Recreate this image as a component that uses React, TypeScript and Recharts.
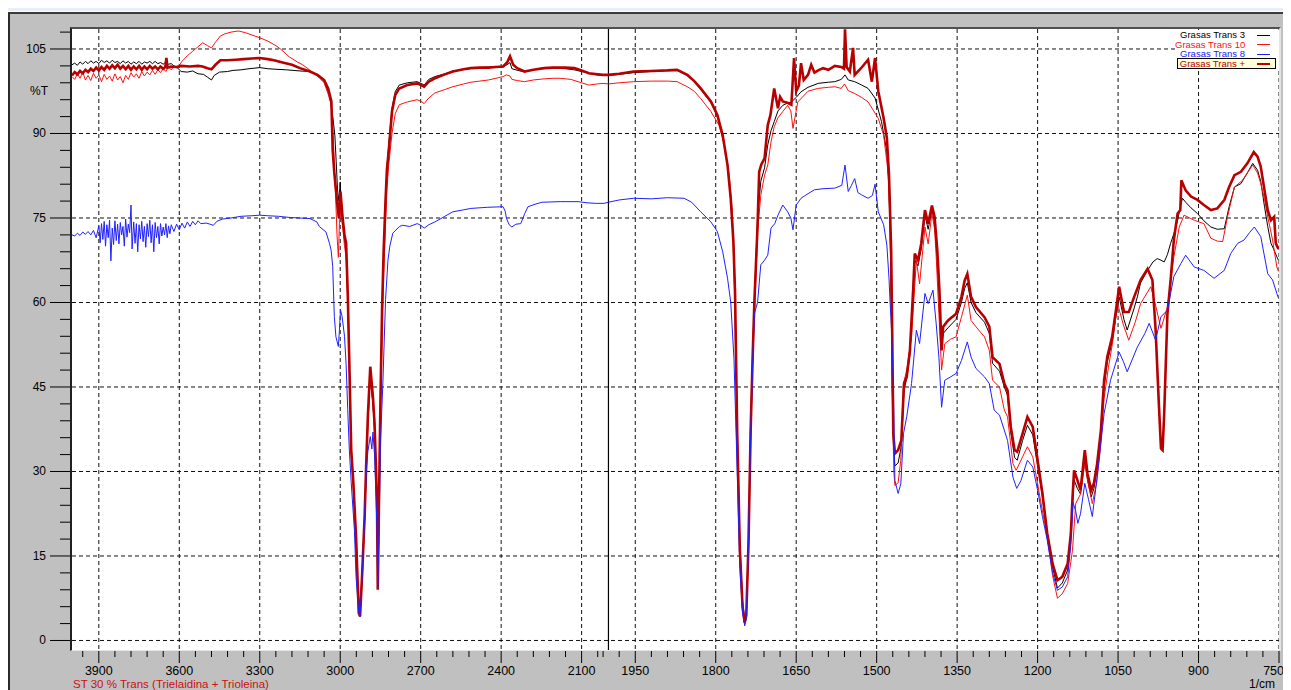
import React from 'react';
import { LineChart, Line, XAxis, YAxis, CartesianGrid, ReferenceLine } from 'recharts';

const seriesNames = ['Grasas Trans 3', 'Grasas Trans 10', 'Grasas Trans 8', 'Grasas Trans +'];
const seriesColors = ['#000000', '#ff1010', '#2020ff', '#b80000'];
const captionText = 'ST 30 % Trans (Trielaidina + Trioleina)';
const yLabel = '%T';
const xUnit = '1/cm';

// [wavenumber (1/cm), %T]
const trans3: [number, number][] = [
  [4000,102.2],[3990,102.5],[3980,102.1],[3970,102.7],[3960,102.3],[3950,102.8],[3940,102.4],[3930,102.9],[3920,102.5],[3910,102.8],
  [3900,102.4],[3890,103.0],[3880,102.6],[3870,102.9],[3860,102.5],[3850,103.0],[3840,102.6],[3830,102.8],[3820,102.4],[3810,102.9],
  [3800,102.5],[3790,102.8],[3780,102.3],[3770,102.7],[3760,102.4],[3750,102.8],[3740,102.3],[3730,102.7],[3720,102.5],[3710,102.8],
  [3700,102.4],[3690,102.8],[3680,102.4],[3670,102.6],[3660,102.3],[3650,102.7],[3640,102.3],[3630,102.4],[3620,102.0],[3610,101.8],
  [3593,101.0],[3570,100.9],[3550,101.1],[3530,100.6],[3510,100.5],[3495,100.0],[3480,99.5],[3470,100.3],[3450,100.9],[3420,101.0],
  [3400,101.2],[3370,101.3],[3340,101.5],[3300,101.7],[3270,101.5],[3240,101.4],[3200,101.3],[3150,101.1],[3113,101.0],[3085,100.4],
  [3060,99.2],[3040,96.9],[3027,92.7],[3020,89.7],[3015,85],[3010,80],[3005,78],[3000,81.4],[2996,77],[2990,74],[2984,71],[2978,69.5],
  [2972,61],[2966,49],[2959,34],[2951,28],[2941,18.5],[2931,5.5],[2926,5.0],[2918,12.5],[2909,22.5],[2903,31],[2897,38.5],[2888,46.5],
  [2878,42],[2872,37.5],[2863,25],[2859,10],[2856,22],[2850,42],[2844,58],[2838,69],[2831,78.5],[2826,84],[2819,88],[2807,94.5],
  [2795,97.4],[2780,98.6],[2750,99.0],[2713,99.2],[2695,98.8],[2687,98.6],[2670,99.6],[2647,100.1],[2610,100.6],[2580,101.1],
  [2540,101.4],[2513,101.6],[2480,101.7],[2447,101.8],[2420,101.9],[2393,101.8],[2375,102.3],[2367,102.6],[2360,101.5],[2345,101.3],
  [2330,101.1],[2313,101.0],[2280,101.3],[2240,101.6],[2207,101.6],[2160,101.5],[2127,101.3],[2100,101.0],[2073,100.7],[2040,100.4],
  [2020,100.3],[2000,100.3],[1980,100.5],[1953,100.8],[1920,101.0],[1890,101.2],[1872,101.2],[1853,100.3],[1840,99.3],[1828,97.8],
  [1809,95.5],[1797,93.0],[1787,89.5],[1778,84.2],[1772,78.2],[1767,70.5],[1764,62],[1760,38],[1755,17],[1750,7],[1746,3.6],[1743,5],
  [1739,18],[1735,38],[1731,52],[1728,60],[1722,75],[1716,81.5],[1709,83.9],[1703,88],[1697,90.5],[1691,92.1],[1684,94],[1675,95.0],
  [1666,95.4],[1659,95.6],[1650,96.4],[1641,97.4],[1628,98.2],[1609,98.9],[1590,99.1],[1578,99.2],[1566,99.6],[1559,100.4],[1553,99.5],
  [1541,99.2],[1528,98.6],[1516,98.0],[1503,96.3],[1491,92.1],[1481,86.8],[1477,80],[1475,73],[1473,60],[1471,45],[1468,33],[1466,31],
  [1460,31.5],[1454,34.5],[1449,44.5],[1444,46.5],[1438,50.8],[1432,61.5],[1429,67.5],[1423,66.5],[1417,69.5],[1410,75.5],[1404,73],
  [1397,76.5],[1392,74.2],[1387,68],[1383,61],[1379,52.5],[1376,54.5],[1367,55.5],[1352,57],[1342,60],[1336,62.5],[1331,63.5],[1324,60],
  [1315,58.2],[1299,56.5],[1290,54.5],[1284,49.2],[1271,47.8],[1262,45],[1256,43.5],[1250,37],[1243,32.5],[1238,32],[1228,35.5],
  [1219,38.2],[1209,36.5],[1200,31],[1191,25.5],[1182,18.5],[1172,13],[1163,9.3],[1154,10.2],[1144,12.5],[1138,18.5],[1135,24],
  [1132,28.5],[1126,27],[1120,26],[1112,32],[1107,28.5],[1100,25.5],[1095,27],[1089,30.5],[1082,36.5],[1076,45],[1070,49.5],[1061,53],
  [1054,57.5],[1048,61],[1039,57],[1033,55.1],[1020,59],[1014,61],[1008,63.5],[995,65.7],[985,67.2],[977,67.8],[970,67.5],[964,67.2],
  [958,68.5],[952,70.5],[945,72.5],[939,74.6],[935,76.5],[930,78.5],[924,77.8],[914,76.8],[902,75.8],[890,74.5],[877,73.4],[865,73.0],
  [852,73.1],[843,77],[833,80.5],[821,81.1],[809,83],[799,84.7],[790,83.5],[784,81.5],[777,77],[771,73.5],[765,70.5],[760,69.5],
  [754,68.1],[751,67.5],
];

const trans10: [number, number][] = [
  [4000,100.1],[3990,99.6],[3980,100.6],[3970,99.8],[3960,100.9],[3950,99.5],[3940,100.3],[3930,99.4],[3920,100.7],[3910,99.8],
  [3900,100.4],[3890,99.2],[3880,100.5],[3870,99.6],[3860,100.2],[3850,99.3],[3840,100.6],[3830,99.5],[3820,100.1],[3810,99.0],
  [3800,100.3],[3790,99.6],[3780,100.8],[3770,100.0],[3760,100.6],[3750,99.8],[3740,101.0],[3730,100.2],[3720,100.9],[3710,100.4],
  [3700,101.2],[3690,100.5],[3680,101.3],[3670,100.8],[3660,101.5],[3650,101.0],[3640,101.8],[3630,101.3],[3620,101.9],[3607,101.6],
  [3590,102.8],[3570,103.8],[3550,104.6],[3530,105.4],[3513,106.1],[3495,105.6],[3480,105.2],[3465,106.2],[3447,107.3],[3430,107.7],
  [3407,108.0],[3380,108.2],[3353,107.9],[3330,107.5],[3300,107.0],[3270,106.4],[3240,105.6],[3220,104.9],[3190,103.6],[3160,102.7],
  [3140,102.2],[3120,101.5],[3100,100.7],[3080,100.0],[3060,99],[3045,97],[3033,95],[3025,88],[3018,80],[3012,72],[3007,68],[3003,74],
  [2998,76],[2990,73],[2984,70],[2978,68],[2972,60],[2966,48],[2959,33],[2951,27],[2941,17],[2931,5],[2926,4.2],[2918,11],[2909,21],
  [2903,30],[2897,38],[2888,47.5],[2878,42],[2872,37],[2863,24],[2859,9.5],[2856,21],[2850,40],[2844,55],[2838,65],[2831,74],[2826,80],
  [2819,84.5],[2807,90],[2795,93.5],[2780,95.1],[2750,95.6],[2713,96.0],[2695,95.6],[2687,95.3],[2670,96.3],[2647,97.2],[2610,97.8],
  [2580,98.3],[2540,98.8],[2513,99.1],[2480,99.3],[2447,99.5],[2420,99.8],[2393,100.1],[2380,100.4],[2367,100.2],[2360,99.6],
  [2340,99.4],[2313,99.2],[2280,99.5],[2240,99.7],[2207,99.8],[2180,99.8],[2140,99.6],[2100,99.0],[2073,98.6],[2040,98.8],[2020,98.9],
  [2000,98.8],[1980,99.0],[1953,99.2],[1920,99.3],[1890,99.3],[1872,99.2],[1853,98.3],[1840,97.5],[1828,96.2],[1809,93.9],[1794,91.5],
  [1784,88.0],[1775,82.6],[1769,76.0],[1765,62],[1760,36],[1755,15],[1750,5.5],[1746,2.8],[1743,4],[1739,16],[1735,35],[1731,50],
  [1727,60],[1722,72.6],[1716,79],[1709,82.6],[1703,84.4],[1697,88.5],[1691,91.2],[1684,92.8],[1675,93.9],[1666,95.0],[1660,94],
  [1656,90.9],[1652,93],[1647,95.6],[1628,97.5],[1610,98.0],[1590,98.2],[1578,98.3],[1566,98.0],[1560,98.8],[1553,97.6],[1541,97.1],
  [1528,96.4],[1516,95.6],[1497,92.7],[1487,89.7],[1478,82.6],[1475,74],[1473,62],[1471,44],[1468,30],[1466,27.5],[1460,28],[1455,32],
  [1450,45.6],[1444,48],[1435,53.9],[1426,67.5],[1420,63.3],[1410,73.4],[1404,70.4],[1397,75.8],[1392,73],[1389,68.1],[1384,58],
  [1379,48],[1373,52.7],[1362,53.5],[1352,53.9],[1342,57.4],[1331,61.3],[1324,56.8],[1315,55.7],[1299,53.9],[1290,51.5],[1284,46.2],
  [1271,45],[1262,40.9],[1256,39.7],[1246,31.4],[1240,30.2],[1228,32.6],[1219,34.4],[1209,32.6],[1200,27.8],[1191,23],[1182,18.4],
  [1172,11.5],[1163,7.5],[1154,8.3],[1144,10.1],[1138,14],[1135,16],[1129,24.3],[1120,26],[1112,31.4],[1105,27.5],[1098,24.3],
  [1090,28],[1083,34],[1076,43],[1068,48.5],[1060,53],[1051,59.8],[1040,56],[1030,53.3],[1018,56.5],[1008,59.8],[989,62.8],[980,59.5],
  [970,55.4],[958,59.2],[946,68.1],[936,73.4],[927,75.5],[908,74.6],[890,74.0],[877,71.4],[865,70.9],[855,70.8],[846,75.2],[833,80.5],
  [818,81.7],[809,83],[799,84.4],[790,83],[784,81.1],[777,78.3],[771,75.2],[762,71.1],[754,66.3],[751,65.5],
];

const trans8: [number, number][] = [
  [4000,72.0],[3990,71.8],[3980,72.3],[3970,71.9],[3960,72.5],[3950,72.1],[3940,72.6],[3930,72.0],[3920,72.8],[3910,71.5],
  [3900,73.6],[3895,70.6],[3890,74.0],[3885,71.2],[3880,74.4],[3875,70.0],[3870,73.8],[3865,71.5],[3860,74.6],[3855,67.4],
  [3850,73.2],[3845,70.3],[3840,74.5],[3835,71.0],[3830,73.9],[3825,70.4],[3820,74.2],[3815,72.0],[3810,73.5],[3805,70.0],
  [3800,74.8],[3795,71.6],[3790,73.9],[3785,72.4],[3780,77.3],[3776,69.5],[3770,74.3],[3765,70.5],[3760,74.0],[3755,69.0],
  [3750,73.8],[3745,71.3],[3740,74.4],[3735,70.8],[3730,73.5],[3725,69.8],[3720,74.0],[3715,71.7],[3710,74.6],[3705,70.6],
  [3700,73.8],[3695,69.0],[3690,74.2],[3685,71.5],[3680,73.5],[3675,70.4],[3670,74.0],[3665,71.8],[3660,73.4],[3655,72.0],
  [3650,74.0],[3645,71.5],[3640,73.6],[3635,72.2],[3630,73.8],[3620,72.6],[3610,73.9],[3600,72.9],[3590,74.1],[3580,73.2],
  [3570,74.3],[3560,73.5],[3550,74.4],[3540,73.8],[3530,74.5],[3520,74.0],[3500,74.1],[3485,73.9],[3473,73.7],[3460,74.4],
  [3440,74.8],[3407,75.0],[3370,75.3],[3330,75.4],[3300,75.5],[3270,75.4],[3230,75.3],[3190,75.1],[3152,75.0],[3113,74.9],
  [3087,74.3],[3078,73.5],[3053,72.5],[3040,70.5],[3034,69.3],[3028,66.4],[3022,57.5],[3016,53.9],[3007,52.2],[3003,55],[2999,58.7],
  [2993,57.5],[2984,54],[2978,49],[2972,41],[2966,33.8],[2959,28],[2947,19.5],[2941,11.3],[2931,5.0],[2926,4.2],[2918,12],[2909,22],
  [2903,30],[2897,33.5],[2888,36.2],[2882,34],[2878,37],[2872,33],[2863,20],[2860,9.3],[2856,18],[2850,35],[2841,45.7],[2831,60.5],
  [2822,67.5],[2815,70],[2804,72.3],[2779,73.5],[2767,73.7],[2741,73.5],[2713,74.0],[2700,73.7],[2687,73.2],[2670,73.8],[2647,74.3],
  [2610,75.3],[2580,76.1],[2545,76.4],[2513,76.7],[2450,76.9],[2393,77.0],[2385,76.2],[2380,74.9],[2370,73.8],[2360,73.4],[2345,73.9],
  [2327,74.0],[2312,75.8],[2300,77.0],[2270,77.5],[2247,77.8],[2180,77.9],[2113,77.9],[2080,77.7],[2047,77.6],[2016,77.6],[2000,77.8],
  [1980,78.2],[1953,78.5],[1920,78.4],[1890,78.6],[1859,78.5],[1845,77.8],[1828,76.1],[1809,74.3],[1797,72.6],[1787,69.0],[1778,64.3],
  [1772,60.0],[1766,50],[1760,30],[1755,13],[1750,5],[1746,2.6],[1743,4],[1739,17],[1735,36],[1731,50],[1728,58],[1722,60],[1716,66.7],
  [1709,67.5],[1703,68.4],[1697,73.2],[1690,74.0],[1684,75.5],[1675,77.3],[1666,76.1],[1660,75.0],[1656,72.9],[1650,77.3],[1641,78.5],
  [1630,79.2],[1616,80.0],[1600,80.2],[1578,80.3],[1565,80.8],[1559,84.4],[1553,79.7],[1547,80.8],[1541,82.0],[1535,79.5],[1528,79.1],
  [1516,78.5],[1508,79.0],[1503,81.0],[1497,76.1],[1487,73.8],[1481,70.2],[1477,64.3],[1475,60],[1473,57],[1469,45.6],[1466,28.4],
  [1460,26.1],[1455,27.8],[1450,36.7],[1444,39.7],[1435,45.6],[1426,55.1],[1420,52.7],[1410,61.6],[1404,59.8],[1395,62.2],[1389,56.2],
  [1384,50.3],[1379,41.4],[1373,46.2],[1362,46.8],[1352,47.4],[1342,49.7],[1331,53.0],[1324,50.3],[1315,48.3],[1299,46.8],[1290,45.6],
  [1281,40.9],[1271,40.0],[1256,35.5],[1246,29.0],[1239,27.0],[1231,28.4],[1219,32.0],[1209,30.8],[1200,26.7],[1191,22],[1182,17.8],
  [1172,12],[1163,8.9],[1154,9.5],[1144,11.3],[1138,17],[1134,24.5],[1129,23],[1125,20.8],[1120,22.5],[1112,27.9],[1105,25],[1098,22.0],
  [1089,29.0],[1076,40.3],[1064,46.2],[1048,51.2],[1040,49.5],[1033,47.7],[1014,52.1],[1000,54.5],[992,56.3],[980,53.3],[970,57.5],
  [958,58.6],[946,64.6],[933,66.9],[924,68.4],[908,66.3],[890,65.7],[871,64.3],[852,65.7],[840,68.7],[827,70.5],[815,71.1],[805,72.4],
  [796,73.4],[784,71.7],[771,65.1],[762,64.0],[754,61.6],[751,60.8],
];

const transPlus: [number, number][] = [
  [4000,100.3],[3990,100.9],[3980,100.5],[3970,101.1],[3960,100.7],[3950,101.3],[3940,100.9],[3930,101.5],[3920,101.1],[3910,101.7],
  [3900,101.2],[3890,101.8],[3880,101.3],[3870,102.0],[3860,101.5],[3850,102.1],[3840,101.6],[3830,102.2],[3820,101.5],[3810,102.0],
  [3800,101.4],[3790,102.0],[3780,101.3],[3770,101.9],[3760,101.4],[3750,102.0],[3740,101.3],[3730,101.9],[3720,101.4],[3710,102.0],
  [3700,101.5],[3690,101.9],[3680,101.4],[3670,101.9],[3660,101.5],[3652,101.8],[3648,103.4],[3644,101.7],[3630,101.9],[3610,101.8],
  [3593,102.0],[3560,101.9],[3530,102.0],[3513,101.9],[3495,101.6],[3480,101.4],[3465,102.2],[3447,103.0],[3420,103.0],[3390,103.1],
  [3360,103.2],[3330,103.3],[3300,103.4],[3270,103.2],[3247,103.0],[3215,102.6],[3180,102.2],[3150,101.6],[3113,101.0],[3085,100.4],
  [3060,99.5],[3045,98.0],[3033,95.7],[3028,87.0],[3022,83.0],[3016,80.0],[3010,77],[3005,75],[2999,79.7],[2991,75.0],[2984,72],
  [2978,70.5],[2972,61.7],[2966,49.2],[2959,33.8],[2951,28.0],[2941,18.4],[2931,4.9],[2926,4.3],[2918,12.0],[2909,22.0],[2903,31.5],
  [2897,39.7],[2888,48.6],[2878,43.2],[2872,38.5],[2863,25.0],[2860,9.0],[2856,23.0],[2850,42.8],[2844,58.7],[2838,69.3],[2831,78.2],
  [2826,83.5],[2819,87.0],[2807,93.9],[2795,96.8],[2780,98.0],[2750,98.6],[2713,98.9],[2695,98.5],[2687,98.3],[2670,99.2],[2647,99.8],
  [2610,100.5],[2580,101.0],[2540,101.4],[2513,101.6],[2480,101.7],[2447,101.7],[2420,101.8],[2393,101.9],[2378,102.6],[2367,103.7],
  [2355,102.2],[2340,101.6],[2313,101.0],[2280,101.3],[2240,101.6],[2207,101.7],[2160,101.7],[2127,101.6],[2100,101.2],[2073,100.7],
  [2040,100.5],[2020,100.4],[2000,100.4],[1980,100.6],[1953,101.0],[1920,101.1],[1890,101.2],[1872,101.3],[1853,100.4],[1840,99.3],
  [1828,98.0],[1809,95.7],[1797,93.3],[1787,89.7],[1778,84.4],[1772,78.4],[1767,70.7],[1764,61.8],[1760,37],[1755,16],[1750,6],
  [1746,3.2],[1743,4.5],[1739,17],[1735,37],[1731,51],[1728,60.0],[1722,73.7],[1719,83.2],[1715,84.5],[1709,85.6],[1703,91.5],
  [1698,93.3],[1694,96],[1691,98.0],[1684,94.5],[1680,96.5],[1675,95.7],[1665,95.4],[1659,95.1],[1654,103.4],[1650,97.5],[1645,98.5],
  [1641,102.5],[1636,99.5],[1628,100.4],[1622,102.2],[1616,100.8],[1609,101.2],[1600,101.6],[1590,101.3],[1578,102.0],[1566,101.8],
  [1561,101.5],[1559,108.5],[1556,101.8],[1550,101.0],[1544,105.2],[1541,100.4],[1530,101.5],[1516,103.1],[1509,99.2],[1503,103.4],
  [1497,97.5],[1487,92.7],[1481,89.2],[1477,82.6],[1475,76],[1473,69.3],[1471,54.5],[1469,36.7],[1466,33.2],[1460,33.8],[1454,35.5],
  [1449,45.6],[1444,46.8],[1438,51.5],[1432,62.2],[1429,68.7],[1423,67.5],[1417,70.4],[1410,76.4],[1404,74.0],[1397,77.2],[1392,75.2],
  [1387,69.3],[1383,62.2],[1379,51.5],[1376,55.7],[1367,56.8],[1352,58.0],[1342,61.0],[1336,63.9],[1331,65.1],[1324,61.0],[1315,59.2],
  [1299,57.4],[1290,55.7],[1284,50.3],[1271,49.1],[1262,45.6],[1256,44.4],[1250,37.9],[1243,33.8],[1238,33.5],[1228,36.7],[1219,39.7],
  [1209,37.9],[1200,32.0],[1191,26.1],[1182,19.0],[1172,13.6],[1163,10.7],[1154,11.3],[1144,13.6],[1138,19.0],[1135,25.2],[1132,30.2],
  [1126,28.5],[1120,26.7],[1112,33.8],[1107,29.6],[1100,26.7],[1095,27.9],[1089,31.4],[1082,37.3],[1076,46.2],[1070,50.4],[1061,53.9],
  [1054,58.6],[1048,62.8],[1039,58.3],[1030,58.3],[1020,61.0],[1008,64.0],[995,66.0],[986,64.0],[980,55.1],[974,42.1],[970,34.1],
  [967,33.8],[964,40.3],[961,49.2],[958,58.0],[952,64.0],[946,71.1],[939,75.8],[934,76.4],[932,81.7],[924,79.9],[914,78.8],[902,78.2],
  [890,77.3],[877,76.4],[865,76.7],[852,78.2],[843,80.5],[833,82.6],[821,83.2],[809,84.7],[797,86.7],[790,85.9],[784,84.1],[777,79.9],
  [771,76.4],[765,74.6],[759,75.2],[756,70.5],[751,69.5],
];

const majorWn = [3900, 3600, 3300, 3000, 2700, 2400, 2100, 1950, 1800, 1650, 1500, 1350, 1200, 1050, 900, 750];
const minorWn = [
  3960, 3840, 3780, 3720, 3660, 3540, 3480, 3420, 3360, 3240, 3180, 3120, 3060, 2940, 2880, 2820, 2760,
  2640, 2580, 2520, 2460, 2340, 2280, 2220, 2160, 2040, 2020,
  1980, 1920, 1890, 1860, 1830, 1770, 1740, 1710, 1680, 1620, 1590, 1560, 1530, 1470, 1440, 1410, 1380,
  1320, 1290, 1260, 1230, 1170, 1140, 1110, 1080, 1020, 990, 960, 930, 870, 840, 810, 780,
];
const majorT = [0, 15, 30, 45, 60, 75, 90, 105];
const minorT = [3, 6, 9, 12, 18, 21, 24, 27, 33, 36, 39, 42, 48, 51, 54, 57, 63, 66, 69, 72, 78, 81, 84, 87, 93, 96, 99, 102, 108];

// split wavenumber axis: 4000-2000 drawn at half the scale of 2000-750
const toU = (wn: number) => (wn >= 2000 ? 4000 - wn : 2000 + (2000 - wn) * 2);
const fromU = (u: number) => (u <= 2000 ? 4000 - u : 2000 - (u - 2000) / 2);
const rows = (s: [number, number][]) => s.map(([wn, t]) => ({ u: toU(wn), t }));

// same order as seriesNames / seriesColors
const allSeries = [trans3, trans10, trans8, transPlus];
// painting order: black, red, dark red, blue on top
const drawOrder = [0, 1, 3, 2];

const FONT = '"Liberation Sans", Arial, sans-serif';
const lastMajor = majorWn[majorWn.length - 1];

const XTick = (p: any) => {
  const { x, y, payload } = p;
  const wn = Math.round(fromU(payload.value));
  const major = majorWn.includes(wn);
  const isLast = wn === lastMajor;
  return (
    <g>
      <line x1={x} x2={x} y1={y + 1} y2={y + (major ? 13 : 7)} stroke="#000" strokeWidth={1} />
      {major && (
        <text
          x={isLast ? x + 5 : x}
          y={y + 25}
          textAnchor={isLast ? 'end' : 'middle'}
          fontSize={12.5}
          fontFamily={FONT}
          fill="#000"
        >
          {wn}
        </text>
      )}
    </g>
  );
};

const YTick = (p: any) => {
  const { x, y, payload } = p;
  const v = payload.value;
  const major = majorT.includes(v);
  return (
    <g>
      <line x1={x - (major ? 22 : 12)} x2={x - 2} y1={y} y2={y} stroke="#000" strokeWidth={1} />
      {major && (
        <text x={x - 26} y={y + 4} textAnchor="end" fontSize={12} fontFamily={FONT} fill="#000">
          {v}
        </text>
      )}
    </g>
  );
};

const vGen = (p: any) =>
  majorWn.map((w) => {
    const u = toU(w);
    const s = p && p.xAxis && typeof p.xAxis.scale === 'function' ? p.xAxis.scale(u) : NaN;
    return Number.isFinite(s) ? s : p.offset.left + (u / 4500) * p.offset.width;
  });
const hGen = (p: any) =>
  majorT.map((v) => {
    const s = p && p.yAxis && typeof p.yAxis.scale === 'function' ? p.yAxis.scale(v) : NaN;
    return Number.isFinite(s) ? s : p.offset.top + ((108.55 - v) / (108.55 + 1.69)) * p.offset.height;
  });

export default function App() {
  return (
    <div style={{ position: 'relative', width: 1283, height: 682, fontFamily: FONT }}>
      <div style={{ position: 'absolute', left: -8, top: -3, width: 1291, height: 6, background: '#e9eef6' }} />
      <div
        style={{
          position: 'absolute',
          left: 0,
          top: 4,
          width: 1283,
          height: 680,
          background: '#c0c0c0',
          borderTop: '2px solid #3a3a3a',
          borderLeft: '2px solid #2a2a2a',
          boxSizing: 'border-box',
        }}
      />
      <div style={{ position: 'absolute', left: 0, top: 0 }}>
        <LineChart width={1283} height={682} margin={{ top: 21, right: 12, left: 0, bottom: 0 }}>
          <CartesianGrid
            fill="#ffffff"
            stroke="#111"
            strokeDasharray="4 3"
            verticalCoordinatesGenerator={vGen}
            horizontalCoordinatesGenerator={hGen}
          />
          <XAxis
            type="number"
            dataKey="u"
            domain={[0, 4500]}
            allowDataOverflow
            ticks={[...majorWn, ...minorWn].map(toU)}
            interval={0}
            axisLine={false}
            tickLine={false}
            tickSize={0}
            tickMargin={0}
            height={40}
            tick={(p: any) => <XTick {...p} />}
          />
          <YAxis
            type="number"
            dataKey="t"
            domain={[-1.69, 108.55]}
            allowDataOverflow
            ticks={[...majorT, ...minorT]}
            interval={0}
            axisLine={false}
            tickLine={false}
            tickSize={0}
            tickMargin={0}
            width={64}
            tick={(p: any) => <YTick {...p} />}
          />
          <ReferenceLine x={toU(2000)} stroke="#000" strokeWidth={1.2} />
          {drawOrder.map((i) => (
            <Line
              key={seriesNames[i]}
              name={seriesNames[i]}
              data={rows(allSeries[i])}
              dataKey="t"
              type="linear"
              stroke={seriesColors[i]}
              strokeWidth={i === 3 ? 2.6 : 1}
              dot={false}
              activeDot={false}
              isAnimationActive={false}
            />
          ))}
        </LineChart>
      </div>
      {/* sunken plot border */}
      <div
        style={{
          position: 'absolute',
          left: 62,
          top: 19,
          width: 1211,
          height: 624,
          borderTop: '2px solid #505050',
          borderLeft: '2px solid #202020',
          borderRight: '2px solid #e4e4e4',
          borderBottom: '1px solid #e4e4e4',
          boxSizing: 'border-box',
          pointerEvents: 'none',
        }}
      />
      {/* legend */}
      <div style={{ position: 'absolute', left: 1167, top: 22, width: 104, height: 40, background: '#fff' }}>
        {seriesNames.map((name, i) => {
          const cy = [5, 14.5, 24, 33.5][i];
          return (
            <React.Fragment key={name}>
              {i === 3 && (
                <div
                  style={{
                    position: 'absolute',
                    left: 2,
                    top: cy - 6,
                    width: 99,
                    height: 11,
                    border: '1px solid #000',
                    background: '#ffffd8',
                    boxSizing: 'border-box',
                  }}
                />
              )}
              <div
                style={{
                  position: 'absolute',
                  left: 0,
                  top: cy - 6,
                  width: 70,
                  height: 12,
                  lineHeight: '12px',
                  fontSize: 9.5,
                  textAlign: 'right',
                  color: seriesColors[i],
                  whiteSpace: 'nowrap',
                }}
              >
                {name}
              </div>
              <div
                style={{
                  position: 'absolute',
                  left: 82,
                  top: cy - (i === 3 ? 1 : 0.5),
                  width: 13,
                  height: i === 3 ? 2 : 1,
                  background: seriesColors[i],
                }}
              />
            </React.Fragment>
          );
        })}
      </div>
      <div style={{ position: 'absolute', left: 22, top: 76, fontSize: 12, color: '#000' }}>{yLabel}</div>
      <div
        style={{
          position: 'absolute',
          left: 65,
          top: 671,
          fontSize: 11.5,
          lineHeight: '10px',
          color: '#cc1010',
          whiteSpace: 'nowrap',
        }}
      >
        {captionText}
      </div>
      <div style={{ position: 'absolute', left: 1241, top: 671, fontSize: 12, lineHeight: '10px', color: '#000' }}>
        {xUnit}
      </div>
    </div>
  );
}
